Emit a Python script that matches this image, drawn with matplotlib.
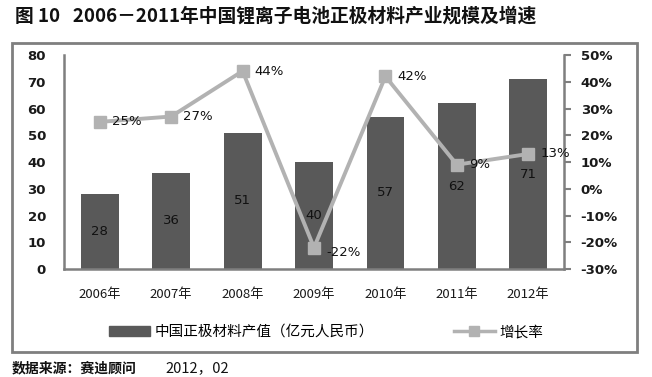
import numpy as np
import matplotlib.pyplot as plt
from matplotlib.patches import Rectangle
from matplotlib.lines import Line2D

plt.rcParams['font.family'] = ['Noto Sans CJK SC', 'DejaVu Sans']

years = ['2006年', '2007年', '2008年', '2009年', '2010年', '2011年', '2012年']
output_value = [28, 36, 51, 40, 57, 62, 71]      # 亿元人民币
growth = [25, 27, 44, -22, 42, 9, 13]            # %

bar_color = '#595959'
line_color = '#b2b2b2'
spine_color = '#7f7f7f'
text_color = '#1a1a1a'

W, H = 652, 377
fig = plt.figure(figsize=(W / 100, H / 100), dpi=100)

# outer frame of the chart
fig.patches.append(Rectangle((12 / W, 1 - 352 / H), (637 - 12) / W, (352 - 43) / H,
                             transform=fig.transFigure, fill=False,
                             edgecolor=spine_color, lw=2))

ax = fig.add_axes([64 / W, 1 - 269 / H, 500 / W, 214 / H])
x = np.arange(len(years))
ax.bar(x, output_value, width=0.53, color=bar_color, zorder=2)
for xi, v in zip(x, output_value):
    ax.text(xi, v / 2, str(v), ha='center', va='center', fontsize=9.5, color='#111111',
            family='DejaVu Sans')

ax.set_xlim(-0.5, len(years) - 0.5)
ax.set_ylim(0, 80)
ax.set_yticks(np.arange(0, 81, 10))
ax.set_xticks(x, years)
for s in ['top', 'right']:
    ax.spines[s].set_visible(False)
for s in ['left', 'bottom']:
    ax.spines[s].set_color(spine_color)
    ax.spines[s].set_linewidth(1.8)
ax.tick_params(axis='y', length=0, pad=13, labelsize=9.5, labelcolor=text_color)
ax.tick_params(axis='x', length=0, pad=14, labelsize=9.5, labelcolor=text_color)

ax2 = ax.twinx()
ax2.plot(x, growth, color=line_color, lw=2.8, marker='s', markersize=8, zorder=3)
for xi, g in zip(x, growth):
    ax2.text(xi + 0.17, g - (2 if g < 0 else 0), f'{g}%', ha='left', va='center',
             fontsize=9.5, color='#111111', family='DejaVu Sans')
ax2.set_ylim(-30, 50)
ax2.set_yticks(np.arange(-30, 51, 10))
ax2.set_yticklabels([f'{t}%' for t in range(-30, 51, 10)])
for s in ['top', 'left', 'bottom']:
    ax2.spines[s].set_visible(False)
ax2.spines['right'].set_color(spine_color)
ax2.spines['right'].set_linewidth(1.8)
ax2.tick_params(axis='y', length=5, width=1.5, color=spine_color, pad=7,
                labelsize=9.5, labelcolor=text_color)
for lab in ax.get_yticklabels() + ax2.get_yticklabels():
    lab.set_family('DejaVu Sans')
    lab.set_fontweight('bold')

handles = [Rectangle((0, 0), 1, 1, color=bar_color),
           Line2D([], [], color=line_color, lw=2.5, marker='s', markersize=7)]
fig.legend(handles, ['中国正极材料产值（亿元人民币）', '增长率'], loc='center',
           bbox_to_anchor=(0.5, 1 - 332 / H), ncol=2, frameon=False, fontsize=10.5,
           handlelength=2.8, columnspacing=5.5, handletextpad=0.3)

fig.text(15 / W, 1 - 16 / H, '图 10   2006－2011年中国锂离子电池正极材料产业规模及增速',
         fontsize=13.5, fontweight='bold', va='center', ha='left', color='#111111')
fig.text(12 / W, 1 - 368 / H, '数据来源：赛迪顾问', fontsize=10, fontweight='bold',
         va='center', ha='left', color='#111111')
fig.text(165 / W, 1 - 368 / H, '2012，02', fontsize=10.5,
         va='center', ha='left', color='#111111')

fig.savefig('out.png', dpi=100)
